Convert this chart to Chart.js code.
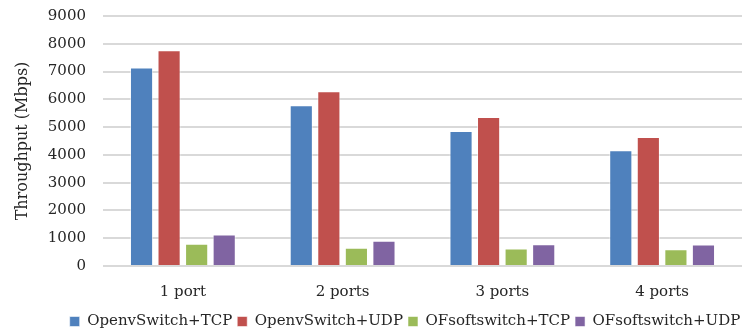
<!DOCTYPE html>
<html>
<head>
<meta charset="utf-8">
<script src="https://cdn.jsdelivr.net/npm/chart.js@4.4.1/dist/chart.umd.min.js"></script>
<style>
  html, body { margin: 0; padding: 0; background: #ffffff; }
  #chart { display: block; }
</style>
</head>
<body>
<canvas id="chart" width="750" height="334"></canvas>
<script>
// ─── data ─────────────────────────────────────────────────────────
const categories  = ["1 port", "2 ports", "3 ports", "4 ports"];
const seriesNames = ["OpenvSwitch+TCP", "OpenvSwitch+UDP", "OFsoftswitch+TCP", "OFsoftswitch+UDP"];
const ovsTcp = [7150, 5790, 4860, 4170];
const ovsUdp = [7770, 6290, 5360, 4640];
const ofsTcp = [800, 660, 630, 600];
const ofsUdp = [1130, 910, 780, 770];
const yTicks = [0, 1000, 2000, 3000, 4000, 5000, 6000, 7000, 8000, 9000];

// Office-style palette
const colors = ["#4F81BD", "#C0504D", "#9BBB59", "#8064A2"];
const FONT   = "'DejaVu Serif', serif";

const seriesValues = [ovsTcp, ovsUdp, ofsTcp, ofsUdp];

// legend row sits a bit right of centre, under the plot area
const legendShift = {
  id: "legendShift",
  afterLayout(chart) {
    chart.legend.left  += 34;
    chart.legend.right += 34;
  }
};

const ctx = document.getElementById("chart").getContext("2d");

new Chart(ctx, {
  type: "bar",
  data: {
    labels: categories,
    datasets: seriesNames.map((name, i) => ({
      label:           name,
      data:            seriesValues[i],
      backgroundColor: colors[i],
      borderColor:     "rgba(255,255,255,0.55)",
      borderWidth:     1,
      categoryPercentage: 0.69,
      barPercentage:      0.84
    }))
  },
  plugins: [legendShift],
  options: {
    responsive: false,
    animation: false,
    devicePixelRatio: 1,
    layout: { padding: { top: 16, right: 8, bottom: -5, left: 0 } },
    plugins: {
      tooltip: { enabled: false },
      legend: {
        position: "bottom",
        labels: {
          color: "#262626",
          font: { family: FONT, size: 15 },
          boxWidth: 10,
          boxHeight: 10,
          padding: 5
        }
      }
    },
    scales: {
      x: {
        afterFit: axis => { axis.height = 43; },
        grid:   { display: false, drawTicks: false },
        border: { display: false },
        ticks:  { color: "#262626", font: { family: FONT, size: 15 }, padding: 17 }
      },
      y: {
        min: 0,
        max: 9000,
        afterFit: axis => { axis.width = 103; axis.paddingTop = 0; },
        afterBuildTicks: axis => { axis.ticks = yTicks.map(v => ({ value: v })); },
        grid:   { color: "#D9D9D9", lineWidth: 2, drawTicks: false },
        border: { display: false },
        ticks:  {
          color: "#262626",
          font: { family: FONT, size: 15 },
          padding: 17,
          autoSkip: false,
          callback: v => String(v)
        },
        title: {
          display: true,
          text: "Throughput (Mbps)",
          color: "#262626",
          font: { family: FONT, size: 16 },
          padding: { top: 13, bottom: 0 }
        }
      }
    }
  }
});
</script>
</body>
</html>
